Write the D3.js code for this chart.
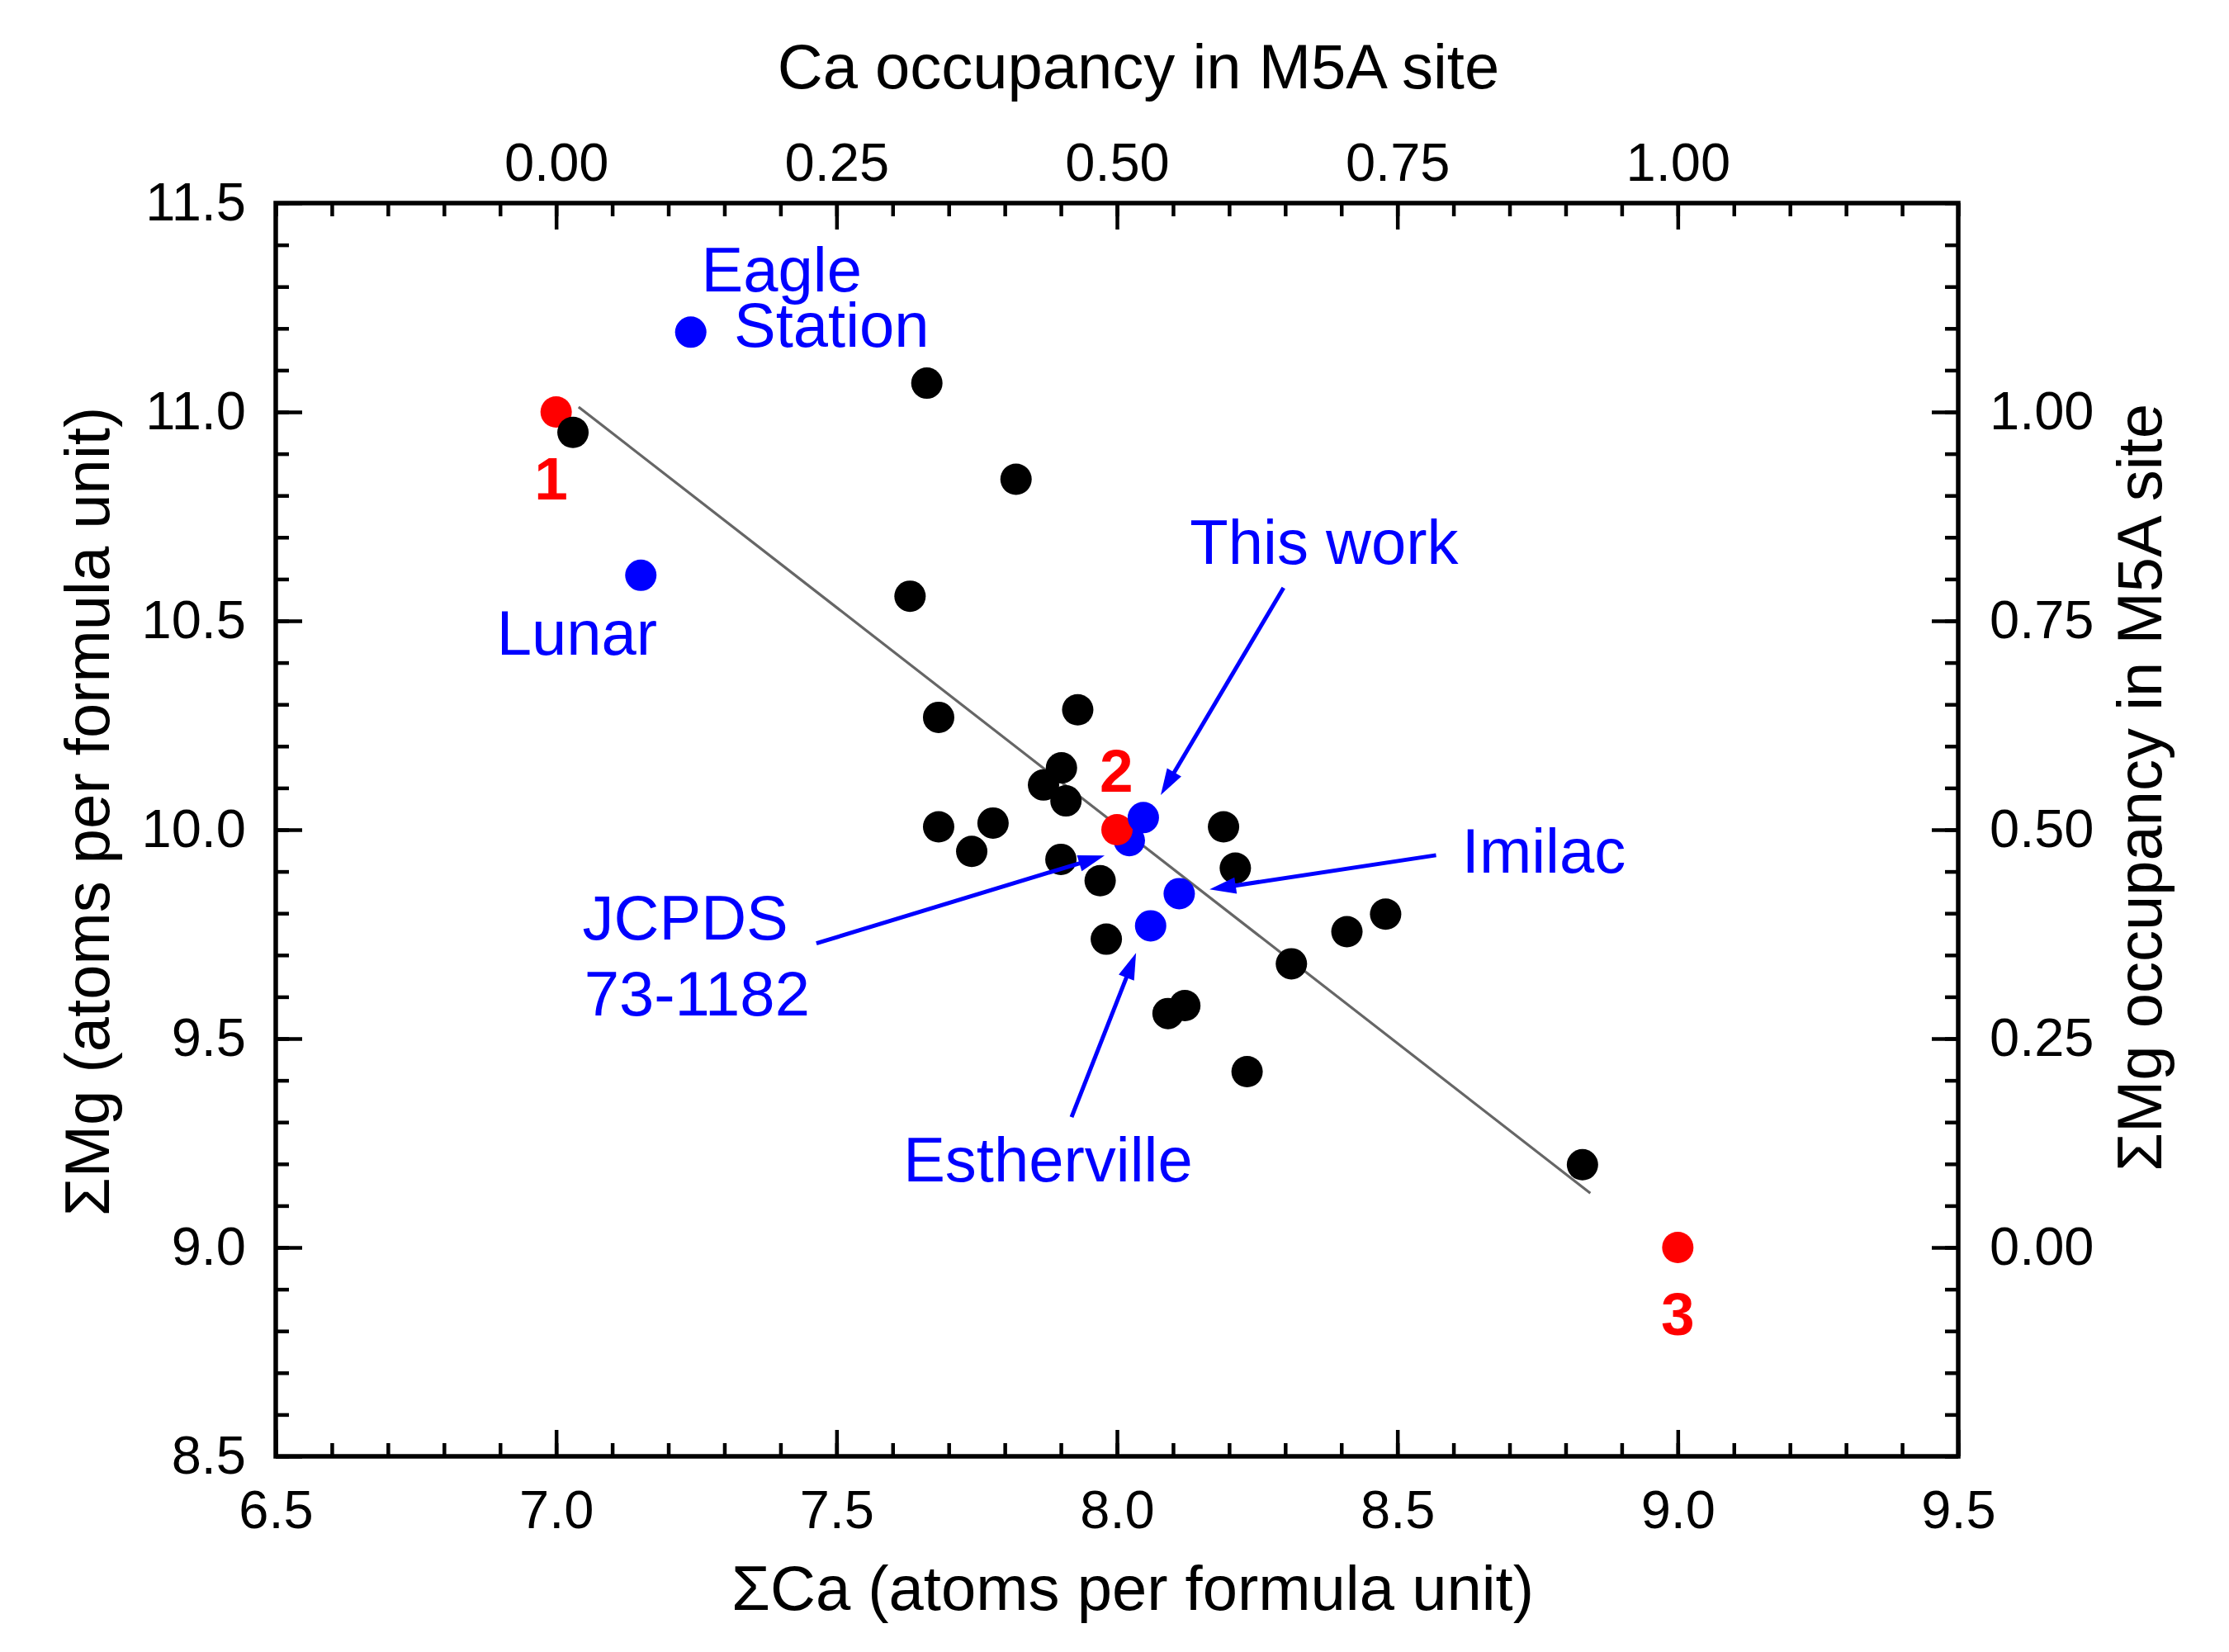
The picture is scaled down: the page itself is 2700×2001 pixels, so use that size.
<!DOCTYPE html>
<html>
<head>
<meta charset="utf-8">
<script src="https://cdn.jsdelivr.net/npm/d3@7"></script>
<style>
  html, body { margin: 0; padding: 0; background: #fff; }
  svg { display: block; }
  text { font-family: "Liberation Sans", Arial, sans-serif; }
</style>
</head>
<body>
<svg id="chart" width="2700" height="2001"></svg>
<script>
// ---------------- data ----------------
const blackCa = [7.030, 7.661, 7.820, 7.631, 7.682, 7.930, 7.901, 7.869, 7.909, 7.682, 7.779, 7.741,
                 7.900, 7.970, 7.981, 8.190, 8.211, 8.091, 8.121, 8.232, 8.311, 8.410, 8.479, 8.830];
const blackMg = [10.951, 11.069, 10.839, 10.559, 10.269, 10.287, 10.148, 10.107, 10.069, 10.007, 10.016, 9.948,
                 9.929, 9.878, 9.738, 10.007, 9.908, 9.560, 9.579, 9.421, 9.679, 9.756, 9.798, 9.198];

const redLabels = ["1", "2", "3"];
const redCa = [7.0, 8.0, 9.0];
const redMg = [11.0, 10.0, 9.0];
const redLabelCa = [6.991, 7.999, 9.000];
const redLabelMg = [10.790, 10.091, 8.790];

const blueNames = ["Eagle Station", "Lunar", "This work", "JCPDS 73-1182", "Imilac", "Estherville"];
const blueCa = [7.240, 7.151, 8.047, 8.022, 8.111, 8.060];
const blueMg = [11.191, 10.609, 10.029, 9.974, 9.847, 9.770];

// regression line end points (data units)
const fitCa = [7.040, 8.844];
const fitMg = [11.012, 9.130];

// blue annotation texts (left anchored, baseline) in data units
const noteText = ["Eagle", "Station", "Lunar", "This work", "Imilac", "JCPDS", "73-1182", "Estherville"];
const noteCa = [7.259, 7.317, 6.894, 8.130, 8.615, 7.047, 7.050, 7.619];
const noteMg = [11.289, 11.156, 10.419, 10.637, 9.898, 9.738, 9.556, 9.158];

// arrows: start -> tip (data units)
const arrowFromCa = [8.297, 8.569, 7.464, 7.919];
const arrowFromMg = [10.579, 9.939, 9.728, 9.312];
const arrowToCa = [8.078, 8.165, 7.978, 8.034];
const arrowToMg = [10.083, 9.857, 9.938, 9.705];

// axes
const xDomain = [6.5, 9.5];
const yDomain = [8.5, 11.5];
const xTickValues = [6.5, 7.0, 7.5, 8.0, 8.5, 9.0, 9.5];
const yTickValues = [8.5, 9.0, 9.5, 10.0, 10.5, 11.0, 11.5];
const occTickValues = [0.00, 0.25, 0.50, 0.75, 1.00];
const occDomain = [-0.25, 1.25];

const xTitle = "ΣCa (atoms per formula unit)";
const yTitle = "ΣMg (atoms per formula unit)";
const topTitle = "Ca occupancy in M5A site";
const rightTitle = "ΣMg occupancy in M5A site";

// ---------------- layout ----------------
const L = 334, R = 2372, T = 246, B = 1764;
const svg = d3.select("#chart");

const x = d3.scaleLinear().domain(xDomain).range([L, R]);
const y = d3.scaleLinear().domain(yDomain).range([B, T]);
const xTop = d3.scaleLinear().domain(occDomain).range([L, R]);
const yRight = d3.scaleLinear().domain(occDomain).range([B, T]);

const tickFont = 65;
const MAJ = 32, MIN = 16;

function minorVals(domain, step) {
  const out = [];
  const n = Math.round((domain[1] - domain[0]) / step);
  for (let i = 0; i <= n; i++) out.push(+(domain[0] + i * step).toFixed(4));
  return out;
}

function styleAxis(g) {
  g.select(".domain").remove();
  g.selectAll(".tick line").attr("stroke", "#000").attr("stroke-width", 4.5);
  g.selectAll(".tick text").attr("fill", "#000").style("font-size", tickFont + "px")
    .style("font-family", "'Liberation Sans', Arial, sans-serif");
}

// bottom
svg.append("g").attr("transform", `translate(0,${B})`)
  .call(d3.axisBottom(x).tickValues(minorVals(xDomain, 0.1)).tickSize(-MIN).tickFormat(""))
  .call(styleAxis);
svg.append("g").attr("transform", `translate(0,${B})`)
  .call(d3.axisBottom(x).tickValues(xTickValues).tickSize(-MAJ).tickPadding(41).tickFormat(d3.format(".1f")))
  .call(styleAxis);

// left
svg.append("g").attr("transform", `translate(${L},0)`)
  .call(d3.axisLeft(y).tickValues(minorVals(yDomain, 0.1)).tickSize(-MIN).tickFormat(""))
  .call(styleAxis);
svg.append("g").attr("transform", `translate(${L},0)`)
  .call(d3.axisLeft(y).tickValues(yTickValues).tickSize(-MAJ).tickPadding(36).tickFormat(d3.format(".1f")))
  .call(styleAxis);

// top
svg.append("g").attr("transform", `translate(0,${T})`)
  .call(d3.axisTop(xTop).tickValues(minorVals(occDomain, 0.05)).tickSize(-MIN).tickFormat(""))
  .call(styleAxis);
svg.append("g").attr("transform", `translate(0,${T})`)
  .call(d3.axisTop(xTop).tickValues(occTickValues).tickSize(-MAJ).tickPadding(27).tickFormat(d3.format(".2f")))
  .call(styleAxis);

// right
svg.append("g").attr("transform", `translate(${R},0)`)
  .call(d3.axisRight(yRight).tickValues(minorVals(occDomain, 0.05)).tickSize(-MIN).tickFormat(""))
  .call(styleAxis);
svg.append("g").attr("transform", `translate(${R},0)`)
  .call(d3.axisRight(yRight).tickValues(occTickValues).tickSize(-MAJ).tickPadding(38).tickFormat(d3.format(".2f")))
  .call(styleAxis);

// frame
svg.append("rect").attr("x", L).attr("y", T).attr("width", R - L).attr("height", B - T)
  .attr("fill", "none").attr("stroke", "#000").attr("stroke-width", 5.5);

// titles
const titleFont = 76;
svg.append("text").attr("x", 1372).attr("y", 1950).attr("text-anchor", "middle")
  .style("font-size", titleFont + "px").attr("fill", "#000").text(xTitle);
svg.append("text").attr("x", 1379).attr("y", 107).attr("text-anchor", "middle")
  .style("font-size", titleFont + "px").attr("fill", "#000").text(topTitle);
svg.append("text").attr("transform", `translate(132,983) rotate(-90)`).attr("text-anchor", "middle")
  .style("font-size", titleFont + "px").attr("fill", "#000").text(yTitle);
svg.append("text").attr("transform", `translate(2618,954) rotate(-90)`).attr("text-anchor", "middle")
  .style("font-size", titleFont + "px").attr("fill", "#000").text(rightTitle);

// regression line
svg.append("line")
  .attr("x1", x(fitCa[0])).attr("y1", y(fitMg[0]))
  .attr("x2", x(fitCa[1])).attr("y2", y(fitMg[1]))
  .attr("stroke", "#666").attr("stroke-width", 3.2);

const R_DOT = 19;
const blue = "#0000ff", red = "#ff0000";

// JCPDS (behind red)
const behind = blueNames.map((n, i) => i).filter(i => blueNames[i] === "JCPDS 73-1182");
const front = blueNames.map((n, i) => i).filter(i => blueNames[i] !== "JCPDS 73-1182");

svg.append("g").selectAll("circle").data(behind).join("circle")
  .attr("cx", i => x(blueCa[i])).attr("cy", i => y(blueMg[i])).attr("r", R_DOT).attr("fill", blue);

svg.append("g").selectAll("circle").data(redCa.map((d, i) => i)).join("circle")
  .attr("cx", i => x(redCa[i])).attr("cy", i => y(redMg[i])).attr("r", R_DOT).attr("fill", red);

svg.append("g").selectAll("circle").data(blackCa.map((d, i) => i)).join("circle")
  .attr("cx", i => x(blackCa[i])).attr("cy", i => y(blackMg[i])).attr("r", R_DOT).attr("fill", "#000");

svg.append("g").selectAll("circle").data(front).join("circle")
  .attr("cx", i => x(blueCa[i])).attr("cy", i => y(blueMg[i])).attr("r", R_DOT).attr("fill", blue);

// red labels
svg.append("g").selectAll("text").data(redLabels.map((d, i) => i)).join("text")
  .attr("x", i => x(redLabelCa[i])).attr("y", i => y(redLabelMg[i]))
  .attr("text-anchor", "middle").attr("fill", red)
  .style("font-size", "73px").style("font-weight", "bold")
  .text(i => redLabels[i]);

// blue annotations
svg.append("g").selectAll("text").data(noteText.map((d, i) => i)).join("text")
  .attr("x", i => x(noteCa[i])).attr("y", i => y(noteMg[i]))
  .attr("fill", blue).style("font-size", "76px")
  .text(i => noteText[i]);

// arrows
const HEAD = 32, HALF = 10;
const ag = svg.append("g");
arrowFromCa.forEach((_, i) => {
  const x0 = x(arrowFromCa[i]), y0 = y(arrowFromMg[i]);
  const x1 = x(arrowToCa[i]), y1 = y(arrowToMg[i]);
  const dx = x1 - x0, dy = y1 - y0, len = Math.hypot(dx, dy);
  const ux = dx / len, uy = dy / len;
  const bx = x1 - ux * HEAD, by = y1 - uy * HEAD;
  ag.append("line").attr("x1", x0).attr("y1", y0).attr("x2", bx + ux * 4).attr("y2", by + uy * 4)
    .attr("stroke", blue).attr("stroke-width", 5);
  ag.append("path")
    .attr("d", `M${x1},${y1}L${bx - uy * HALF},${by + ux * HALF}L${bx + uy * HALF},${by - ux * HALF}Z`)
    .attr("fill", blue);
});
</script>
</body>
</html>
